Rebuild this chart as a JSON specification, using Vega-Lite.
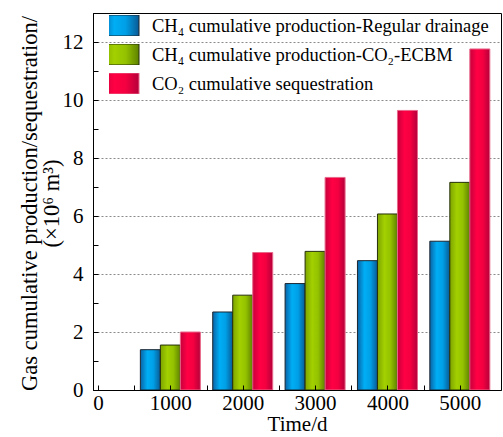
{
  "$schema": "https://vega.github.io/schema/vega-lite/v6.json",
  "width": 408,
  "height": 377,
  "autosize": {"type": "none"},
  "padding": {"left": 93, "top": 13, "right": 2, "bottom": 47},
  "background": "white",
  "config": {
    "font": "Liberation Serif",
    "view": {"stroke": "#000", "strokeWidth": 1},
    "axis": {
      "domainColor": "#000",
      "tickColor": "#000",
      "labelColor": "#000",
      "titleColor": "#000",
      "labelFont": "Liberation Serif",
      "titleFont": "Liberation Serif",
      "titleFontWeight": "normal",
      "labelFontSize": 21,
      "titleFontSize": 21
    }
  },
  "data": {
    "values": [
      {"time": 1000, "series": "CH₄ cumulative production-Regular drainage", "value": 1.39},
      {"time": 1000, "series": "CH₄ cumulative production-CO₂-ECBM", "value": 1.55},
      {"time": 1000, "series": "CO₂ cumulative sequestration", "value": 2.0},
      {"time": 2000, "series": "CH₄ cumulative production-Regular drainage", "value": 2.69},
      {"time": 2000, "series": "CH₄ cumulative production-CO₂-ECBM", "value": 3.27},
      {"time": 2000, "series": "CO₂ cumulative sequestration", "value": 4.74},
      {"time": 3000, "series": "CH₄ cumulative production-Regular drainage", "value": 3.67},
      {"time": 3000, "series": "CH₄ cumulative production-CO₂-ECBM", "value": 4.78},
      {"time": 3000, "series": "CO₂ cumulative sequestration", "value": 7.33},
      {"time": 4000, "series": "CH₄ cumulative production-Regular drainage", "value": 4.46},
      {"time": 4000, "series": "CH₄ cumulative production-CO₂-ECBM", "value": 6.07},
      {"time": 4000, "series": "CO₂ cumulative sequestration", "value": 9.64},
      {"time": 5000, "series": "CH₄ cumulative production-Regular drainage", "value": 5.13},
      {"time": 5000, "series": "CH₄ cumulative production-CO₂-ECBM", "value": 7.16},
      {"time": 5000, "series": "CO₂ cumulative sequestration", "value": 11.76}
    ]
  },
  "encoding": {
    "x": {
      "field": "time",
      "type": "quantitative",
      "scale": {"domain": [0, 5500], "nice": false, "zero": true},
      "axis": {
        "title": "Time/d",
        "values": [0, 500, 1000, 1500, 2000, 2500, 3000, 3500, 4000, 4500, 5000],
        "labelExpr": "datum.value % 1000 === 0 ? datum.label : ''",
        "format": "d",
        "grid": false,
        "tickSize": -5,
        "labelPadding": 7,
        "titlePadding": 0,
        "zindex": 1
      }
    },
    "y": {
      "field": "value",
      "type": "quantitative",
      "scale": {"domain": [0, 13], "nice": false},
      "axis": {
        "title": ["Gas cumulative production/sequestration/", "(×10⁶ m³)"],
        "values": [0, 1, 2, 3, 4, 5, 6, 7, 8, 9, 10, 11, 12, 13],
        "labelExpr": "datum.value % 2 === 0 && datum.value < 13 ? datum.label : ''",
        "tickSize": -5,
        "labelPadding": 15,
        "grid": true,
        "gridColor": "#8a8a8a",
        "gridDash": [2, 2],
        "gridWidth": 1,
        "gridOpacity": {"condition": {"test": "datum.value % 2 === 0 && datum.value > 0 && datum.value < 13", "value": 1}, "value": 0},
        "titleFontSize": 22.5,
        "titleLineHeight": 22,
        "titleBaseline": "top",
        "titleX": -75,
        "titleY": 190,
        "titleAnchor": "middle",
        "zindex": 0
      }
    },
    "stroke": {
      "field": "series",
      "type": "nominal",
      "scale": {
        "domain": [
          "CH₄ cumulative production-Regular drainage",
          "CH₄ cumulative production-CO₂-ECBM",
          "CO₂ cumulative sequestration"
        ],
        "range": ["#1c2630", "#26300c", "#e8688a"]
      },
      "legend": {
        "title": null,
        "orient": "none",
        "legendX": 16,
        "legendY": 2,
        "symbolType": "M-1.81,-1H1.81V1H-1.81Z",
        "symbolSize": 441,
        "symbolStrokeWidth": 1,
        "labelFont": "Liberation Serif",
        "labelFontSize": 18.5,
        "labelColor": "#000",
        "labelOffset": 21,
        "labelLimit": 400,
        "clipHeight": 21,
        "rowPadding": 8,
        "encoding": {
          "symbols": {
            "fillOpacity": {"value": 1},
            "fill": {
              "condition": [
                {"test": "indexof(datum.value, 'Regular') >= 0",
                 "value": {"id": "key_blue", "gradient": "linear", "x1": 0, "y1": 0, "x2": 1, "y2": 0,
                   "stops": [{"offset": 0, "color": "#0a63a6"}, {"offset": 0.35, "color": "#00aef5"}, {"offset": 0.65, "color": "#009fe6"}, {"offset": 1, "color": "#0a5a94"}]}},
                {"test": "indexof(datum.value, 'ECBM') >= 0",
                 "value": {"id": "key_green", "gradient": "linear", "x1": 0, "y1": 0, "x2": 1, "y2": 0,
                   "stops": [{"offset": 0, "color": "#7ea400"}, {"offset": 0.35, "color": "#a2d000"}, {"offset": 0.65, "color": "#94c200"}, {"offset": 1, "color": "#5e8200"}]}}
              ],
              "value": {"id": "key_red", "gradient": "linear", "x1": 0, "y1": 0, "x2": 1, "y2": 0,
                "stops": [{"offset": 0, "color": "#c8003c"}, {"offset": 0.35, "color": "#ff0044"}, {"offset": 0.65, "color": "#f40040"}, {"offset": 1, "color": "#b4003a"}]}
            }
          }
        }
      }
    }
  },
  "layer": [
    {
      "transform": [{"filter": "datum.series === 'CH₄ cumulative production-Regular drainage'"}],
      "mark": {
        "type": "bar", "width": 20, "xOffset": -20, "strokeWidth": 1,
        "fill": {"id": "bar_blue", "gradient": "linear", "x1": 0, "y1": 0, "x2": 1, "y2": 0,
          "stops": [{"offset": 0, "color": "#0a63a6"}, {"offset": 0.35, "color": "#00aef5"}, {"offset": 0.65, "color": "#009fe6"}, {"offset": 1, "color": "#0a5a94"}]}
      }
    },
    {
      "transform": [{"filter": "datum.series === 'CH₄ cumulative production-CO₂-ECBM'"}],
      "mark": {
        "type": "bar", "width": 20, "xOffset": 0, "strokeWidth": 1,
        "fill": {"id": "bar_green", "gradient": "linear", "x1": 0, "y1": 0, "x2": 1, "y2": 0,
          "stops": [{"offset": 0, "color": "#7ea400"}, {"offset": 0.35, "color": "#a2d000"}, {"offset": 0.65, "color": "#94c200"}, {"offset": 1, "color": "#5e8200"}]}
      }
    },
    {
      "transform": [{"filter": "datum.series === 'CO₂ cumulative sequestration'"}],
      "mark": {
        "type": "bar", "width": 20, "xOffset": 20, "strokeWidth": 1,
        "fill": {"id": "bar_red", "gradient": "linear", "x1": 0, "y1": 0, "x2": 1, "y2": 0,
          "stops": [{"offset": 0, "color": "#c8003c"}, {"offset": 0.35, "color": "#ff0044"}, {"offset": 0.65, "color": "#f40040"}, {"offset": 1, "color": "#b4003a"}]}
      }
    }
  ]
}
